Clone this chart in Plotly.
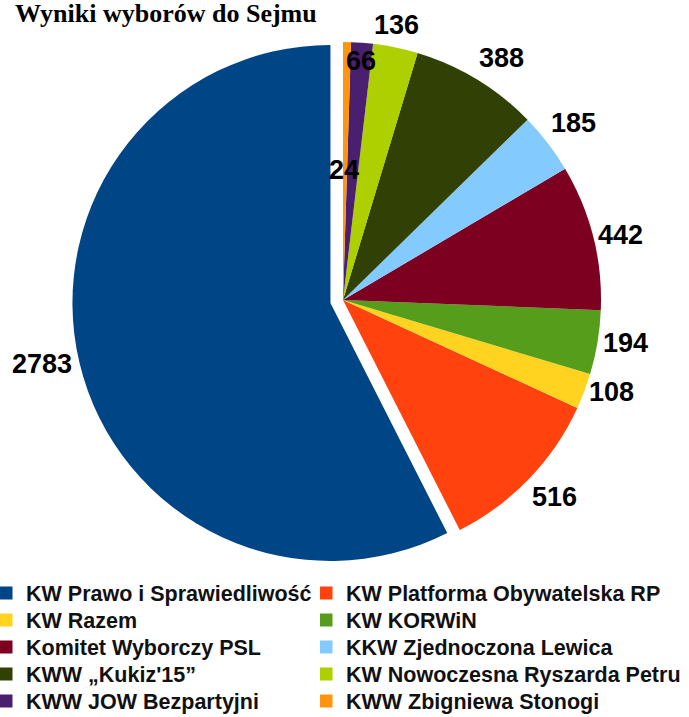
import math
import plotly.graph_objects as go

# ---- data ----
parties = [
    "KW Prawo i Sprawiedliwość",
    "KW Platforma Obywatelska RP",
    "KW Razem",
    "KW KORWiN",
    "Komitet Wyborczy PSL",
    "KKW Zjednoczona Lewica",
    "KWW „Kukiz'15”",
    "KW Nowoczesna Ryszarda Petru",
    "KWW JOW Bezpartyjni",
    "KWW Zbigniewa Stonogi",
]
seats = [2783, 516, 108, 194, 442, 185, 388, 136, 66, 24]
title_text = "Wyniki wyborów do Sejmu"

# ---- style ----
colors = ["#004586", "#ff420e", "#ffd320", "#579d1c", "#7e0021",
          "#83caff", "#314004", "#aecf00", "#4b1f6f", "#ff950e"]
pulls = [0.05, 0, 0, 0, 0, 0, 0, 0, 0, 0]
label_radius = [1.142, 1.119, 1.099, 1.107, 1.103, 1.128, 1.122, 1.085, 0.929, 0.504]
label_angle_nudge = [-1.6, 0.9, 1.7, 0.9, -1.0, 0.0, -1.9, 0.8, 0.0, 0.6]

W, H = 689, 717
cx, cy, R = 343.0, 300.0, 258.0
side = 2 * R * (1 + max(pulls))
domain_x = [(cx - side / 2) / W, (cx + side / 2) / W]
domain_y = [1 - (cy + side / 2) / H, 1 - (cy - side / 2) / H]

total = sum(seats)
# first slice runs counter-clockwise from 12 o'clock; plotly lays the first
# slice clockwise from the rotation start, so start where it must end
rotation = 360.0 * (total - seats[0]) / total

fig = go.Figure(go.Pie(
    labels=parties,
    values=seats,
    sort=False,
    direction="counterclockwise",
    rotation=rotation,
    pull=pulls,
    marker=dict(colors=colors, line=dict(width=0)),
    textinfo="none",
    hoverinfo="label+value",
    domain=dict(x=domain_x, y=domain_y),
    showlegend=False,
))

# value labels placed from the slice angles
cum = 0
annotations = []
for v, p, f, nd in zip(seats, pulls, label_radius, label_angle_nudge):
    mid = cum + v / 2
    cum += v
    base = math.radians(90 + 360 * mid / total)
    ang = base + math.radians(nd)
    ox = cx + p * R * math.cos(base)
    oy = cy - p * R * math.sin(base)
    px = ox + f * R * math.cos(ang)
    py = oy - f * R * math.sin(ang)
    annotations.append(dict(
        x=px / W, y=1 - py / H, xref="paper", yref="paper",
        text=str(v), showarrow=False, xanchor="center", yanchor="middle",
        font=dict(family="Liberation Sans", size=27, color="#000000", weight="bold"),
    ))

# legend: two columns, one legend box per entry
col_x = [0, 320]
row_y0, row_step = 593, 27
legend_layouts = {}
for i, (name, c) in enumerate(zip(parties, colors)):
    lname = "legend" if i == 0 else "legend%d" % (i + 1)
    fig.add_trace(go.Scatter(
        x=[None], y=[None], mode="markers", name=name,
        marker=dict(symbol="square", size=13, color=c, line=dict(width=0)),
        legend=lname, showlegend=True, hoverinfo="skip",
    ))
    row, col = divmod(i, 2)
    legend_layouts[lname] = dict(
        orientation="v",
        x=col_x[col] / W, xanchor="left",
        y=1 - (row_y0 + row * row_step) / H, yanchor="middle",
        itemwidth=30,
        indentation=-14,
        font=dict(family="Liberation Sans", size=21.5, color="#111111", weight="bold"),
        bgcolor="rgba(0,0,0,0)",
        borderwidth=0,
    )

fig.update_layout(
    width=W, height=H,
    margin=dict(l=0, r=0, t=0, b=0, autoexpand=False),
    paper_bgcolor="white",
    plot_bgcolor="white",
    xaxis=dict(visible=False),
    yaxis=dict(visible=False),
    title=dict(text="<b>" + title_text + "</b>", x=15 / W, xanchor="left",
               y=1 - 13 / H, yanchor="middle",
               font=dict(family="Liberation Serif", size=26, color="#000000")),
    annotations=annotations,
    showlegend=True,
    **legend_layouts,
)

fig.write_html(
    "out.html",
    config={"displayModeBar": False},
    post_script="document.body.style.margin='0';document.body.style.overflow='hidden';",
)
